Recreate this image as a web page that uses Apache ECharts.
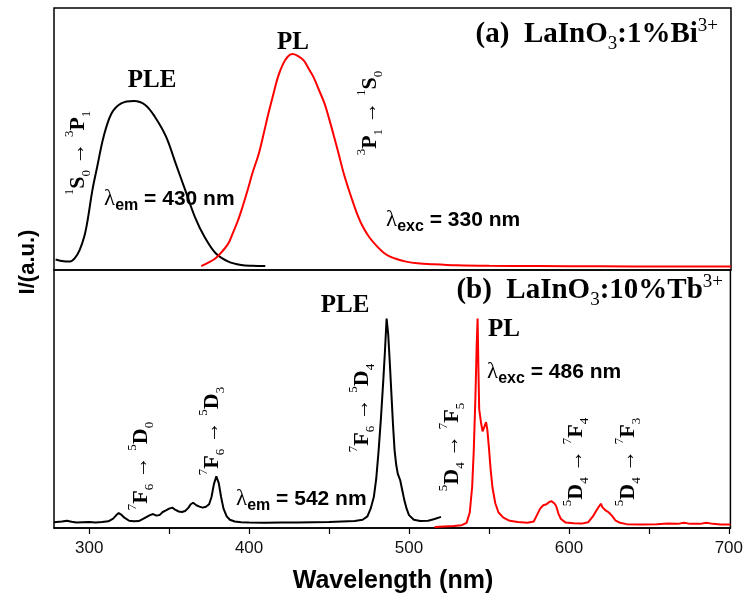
<!DOCTYPE html>
<html><head><meta charset="utf-8">
<script src="https://cdn.jsdelivr.net/npm/echarts@6/dist/echarts.min.js"></script>
<style>html,body{margin:0;padding:0;background:#fff}#c{width:746px;height:601px}</style>
</head><body><div id="c"></div>
<script>
// Wavelength axis ticks and labels (nm)
const tickValues = [300, 350, 400, 450, 500, 550, 600, 650, 700];
const labelValues = [300, 400, 500, 600, 700];

// (a) LaInO3:1%Bi3+ excitation spectrum, monitored at 430 nm
const biPleNm = [279, 284, 288, 291, 294, 297, 299, 302, 305, 309, 314, 320, 328, 335, 341, 348, 354, 360, 366, 372, 379, 387, 395, 402, 410];
const biPleI  = [0.04, 0.033, 0.032, 0.045, 0.076, 0.13, 0.19, 0.305, 0.394, 0.509, 0.598, 0.636, 0.645, 0.63, 0.585, 0.509, 0.407, 0.305, 0.203, 0.127, 0.064, 0.032, 0.019, 0.016, 0.015];

// (a) emission spectrum, excited at 330 nm
const biPlNm = [370, 375, 379, 383, 387, 390, 393, 396, 399, 402, 406, 409, 412, 415, 418, 421, 424, 427, 430, 434, 437, 440, 443, 447, 450, 453, 456, 459, 462, 465, 468, 471, 475, 480, 484, 488, 493, 498, 505, 515, 530, 550, 580, 620, 660, 701];
const biPlI  = [0.015, 0.03, 0.045, 0.07, 0.102, 0.145, 0.19, 0.245, 0.305, 0.37, 0.445, 0.52, 0.598, 0.67, 0.738, 0.785, 0.814, 0.824, 0.818, 0.8, 0.77, 0.738, 0.695, 0.636, 0.575, 0.509, 0.44, 0.369, 0.31, 0.255, 0.205, 0.165, 0.125, 0.089, 0.066, 0.051, 0.04, 0.032, 0.026, 0.022, 0.018, 0.016, 0.015, 0.014, 0.013, 0.013];

// (b) LaInO3:10%Tb3+ excitation spectrum, monitored at 542 nm
const tbPleNm = [278, 283, 286, 289, 292, 296, 300, 304, 308, 312, 315, 317, 318.5, 320, 322, 325, 328, 331, 334, 336, 338, 340, 342, 344, 346, 348, 350, 352, 354, 356, 358, 360, 362, 363.5, 365, 367, 369, 371, 373, 375, 376.5, 378, 379.5, 381, 382.5, 384, 386, 388, 391, 395, 400, 410, 420, 430, 440, 450, 458, 466, 471, 474, 476, 478, 479.5, 481, 482.5, 484, 485, 486, 487, 488, 489, 490, 491, 492, 493, 494.5, 495.5, 497, 498.5, 500, 503, 507, 512, 516, 520];
const tbPleI  = [0.022, 0.025, 0.028, 0.024, 0.021, 0.022, 0.023, 0.021, 0.023, 0.026, 0.036, 0.05, 0.058, 0.052, 0.04, 0.028, 0.026, 0.027, 0.036, 0.043, 0.05, 0.054, 0.048, 0.05, 0.062, 0.068, 0.075, 0.079, 0.07, 0.064, 0.062, 0.066, 0.078, 0.092, 0.098, 0.088, 0.083, 0.079, 0.082, 0.092, 0.12, 0.17, 0.2, 0.175, 0.12, 0.075, 0.045, 0.032, 0.025, 0.022, 0.021, 0.02, 0.021, 0.021, 0.022, 0.023, 0.025, 0.027, 0.032, 0.045, 0.075, 0.12, 0.19, 0.3, 0.43, 0.58, 0.69, 0.812, 0.75, 0.64, 0.52, 0.4, 0.3, 0.245, 0.21, 0.185, 0.155, 0.11, 0.075, 0.05, 0.032, 0.027, 0.028, 0.035, 0.043];

// (b) emission spectrum, excited at 486 nm
const tbPlNm = [516, 522, 528, 533, 536, 538, 539.5, 540.5, 541.5, 542.3, 542.9, 543.4, 543.9, 545, 546, 547, 548.2, 549, 550, 551, 552.2, 554, 556, 559, 563, 568, 574, 578, 580, 582, 584, 586, 587.5, 589, 590, 591, 592, 593.5, 595, 598, 603, 608, 612, 615, 617, 619, 620, 621, 623, 625, 627, 629, 632, 636, 645, 655, 662, 668, 672, 676, 682, 686, 690, 695, 701];
const tbPlI  = [0.004, 0.006, 0.008, 0.011, 0.02, 0.06, 0.16, 0.3, 0.5, 0.7, 0.812, 0.62, 0.46, 0.41, 0.375, 0.39, 0.41, 0.38, 0.31, 0.23, 0.157, 0.095, 0.06, 0.04, 0.028, 0.023, 0.02, 0.025, 0.05, 0.075, 0.088, 0.092, 0.1, 0.104, 0.11, 0.095, 0.085, 0.055, 0.035, 0.021, 0.018, 0.017, 0.022, 0.045, 0.066, 0.085, 0.094, 0.08, 0.068, 0.06, 0.047, 0.03, 0.02, 0.015, 0.014, 0.015, 0.017, 0.016, 0.02, 0.016, 0.016, 0.02, 0.016, 0.014, 0.014];

const zip = (xs, ys) => xs.map((x, i) => [x, ys[i]]);

const SER = 'Liberation Serif';
const SAN = 'Liberation Sans';
const BLACK = '#000000';
const RED = '#ff0000';

// rich-text styles: m = main glyph, p = superscript, b = subscript, a = arrow
function transRich(size, scriptSize) {
  return {
    m: {fontFamily: SER, fontWeight: 'bold', fontSize: size, lineHeight: size + 8, fill: BLACK},
    p: {fontFamily: SER, fontSize: scriptSize, verticalAlign: 'top', fill: BLACK},
    b: {fontFamily: SER, fontSize: scriptSize, verticalAlign: 'bottom', fill: BLACK},
    a: {fontFamily: SER, fontSize: size, fill: BLACK}
  };
}
function lambdaRich(size) {
  return {
    m: {fontFamily: SAN, fontWeight: 'bold', fontSize: size, lineHeight: size + 8, fill: BLACK},
    l: {fontFamily: SER, fontSize: size + 2, fill: BLACK},
    b: {fontFamily: SAN, fontWeight: 'bold', fontSize: Math.round(size * 0.75), verticalAlign: 'bottom', fill: BLACK}
  };
}
function txt(x, y, text, rich, opts) {
  opts = opts || {};
  return {
    type: 'text', x: x, y: y, rotation: opts.rot || 0, z: 100,
    style: {text: text, rich: rich, align: opts.align || 'center', verticalAlign: 'middle', fill: BLACK}
  };
}
const ROT = Math.PI / 2;
const tr = transRich(22, 13);
const lam = lambdaRich(21);
const head = transRich(29, 19);
const big = {m: {fontFamily: SER, fontWeight: 'bold', fontSize: 25, fill: BLACK}};

const graphics = [
  // panel (a)
  txt(152, 81, '{m|PLE}', big),
  txt(293, 43, '{m|PL}', big),
  txt(718, 35, '{m|(a)  LaInO}{b|3}{m|:1%Bi}{p|3+}', head, {align: 'right'}),
  txt(78, 153, '{p|1}{m|S}{b|0}{a| → }{p|3}{m|P}{b|1}', tr, {rot: ROT}),
  txt(370, 113, '{p|3}{m|P}{b|1}{a| → }{p|1}{m|S}{b|0}', tr, {rot: ROT}),
  txt(104, 199, '{l|λ}{b|em}{m| = 430 nm}', lam, {align: 'left'}),
  txt(386, 220, '{l|λ}{b|exc}{m| = 330 nm}', lam, {align: 'left'}),
  // panel (b)
  txt(723, 291, '{m|(b)  LaInO}{b|3}{m|:10%Tb}{p|3+}', head, {align: 'right'}),
  txt(345, 306, '{m|PLE}', big),
  txt(504, 330, '{m|PL}', big),
  txt(487, 372, '{l|λ}{b|exc}{m| = 486 nm}', lam, {align: 'left'}),
  txt(236, 499, '{l|λ}{b|em}{m| = 542 nm}', lam, {align: 'left'}),
  txt(141, 466, '{p|7}{m|F}{b|6}{a| → }{p|5}{m|D}{b|0}', tr, {rot: ROT}),
  txt(212, 431, '{p|7}{m|F}{b|6}{a| → }{p|5}{m|D}{b|3}', tr, {rot: ROT}),
  txt(362, 408, '{p|7}{m|F}{b|6}{a| → }{p|5}{m|D}{b|4}', tr, {rot: ROT}),
  txt(452, 447, '{p|5}{m|D}{b|4}{a| → }{p|7}{m|F}{b|5}', tr, {rot: ROT}),
  txt(576, 462, '{p|5}{m|D}{b|4}{a| → }{p|7}{m|F}{b|4}', tr, {rot: ROT}),
  txt(628, 462, '{p|5}{m|D}{b|4}{a| → }{p|7}{m|F}{b|3}', tr, {rot: ROT}),
  // axis titles
  txt(28, 262, '{m|I/(a.u.)}', {m: {fontFamily: SAN, fontWeight: 'bold', fontSize: 22, fill: BLACK}}, {rot: ROT}),
  txt(393, 581, '{m|Wavelength (nm)}', {m: {fontFamily: SAN, fontWeight: 'bold', fontSize: 25, fill: BLACK}})
];

const gridBase = {left: 54, width: 677, show: true, borderColor: BLACK, borderWidth: 1.5, backgroundColor: 'transparent'};

const option = {
  animation: false,
  backgroundColor: '#ffffff',
  grid: [
    Object.assign({top: 8, height: 262}, gridBase),
    Object.assign({top: 270, height: 258}, gridBase)
  ],
  xAxis: [
    {type: 'value', gridIndex: 0, min: 278, max: 701, show: false},
    {
      type: 'value', gridIndex: 1, min: 278, max: 701,
      axisLine: {show: true, onZero: false, lineStyle: {color: BLACK, width: 1.5}},
      axisTick: {show: true, inside: false, length: 6, customValues: tickValues, lineStyle: {color: BLACK, width: 1.2}},
      axisLabel: {show: true, customValues: labelValues, margin: 12, fontFamily: SAN, fontSize: 17, color: '#111'},
      splitLine: {show: false}
    }
  ],
  yAxis: [
    {type: 'value', gridIndex: 0, min: 0, max: 1, show: false},
    {type: 'value', gridIndex: 1, min: 0, max: 1, show: false}
  ],
  series: [
    {type: 'line', xAxisIndex: 0, yAxisIndex: 0, data: zip(biPleNm, biPleI), smooth: 0.35, showSymbol: false, lineStyle: {color: BLACK, width: 2}},
    {type: 'line', xAxisIndex: 0, yAxisIndex: 0, data: zip(biPlNm, biPlI), smooth: 0.35, showSymbol: false, lineStyle: {color: RED, width: 2}},
    {type: 'line', xAxisIndex: 1, yAxisIndex: 1, data: zip(tbPleNm, tbPleI), showSymbol: false, lineStyle: {color: BLACK, width: 2}},
    {type: 'line', xAxisIndex: 1, yAxisIndex: 1, data: zip(tbPlNm, tbPlI), showSymbol: false, lineStyle: {color: RED, width: 2}}
  ],
  graphic: graphics
};

const chart = echarts.init(document.getElementById('c'), null, {renderer: 'canvas'});
chart.setOption(option);
</script></body></html>
